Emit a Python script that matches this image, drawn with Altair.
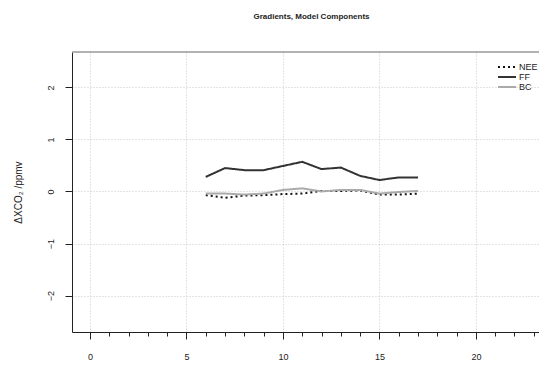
import altair as alt
import pandas as pd

hours = [6, 7, 8, 9, 10, 11, 12, 13, 14, 15, 16, 17]
nee = [-0.07, -0.12, -0.08, -0.07, -0.05, -0.04, 0.01, 0.01, 0.02, -0.06, -0.06, -0.04]
ff = [0.28, 0.45, 0.41, 0.41, 0.49, 0.57, 0.43, 0.46, 0.30, 0.22, 0.27, 0.27]
bc = [-0.04, -0.04, -0.06, -0.04, 0.03, 0.06, 0.00, 0.03, 0.03, -0.04, -0.01, 0.01]

series = ["NEE", "FF", "BC"]
rows = []
for name, vals in zip(series, [nee, ff, bc]):
    for h, v in zip(hours, vals):
        rows.append({"hour": h, "value": v, "series": name})
df = pd.DataFrame(rows)

x_ticks = list(range(0, 24))
y_ticks = [-2, -1, 0, 1, 2]

FONT = "Liberation Sans"
W, H = 467, 280

legend_cfg = dict(title=None, orient="none", legendX=430, legendY=10,
                  symbolType="M-2.25,0L2.25,0", symbolSize=64, symbolStrokeWidth=2,
                  labelFont=FONT, labelFontSize=9, labelColor="#222",
                  rowPadding=0, symbolOffset=0, labelOffset=7)

lines = alt.Chart(df).mark_line(strokeWidth=2, clip=True).encode(
    x=alt.X("hour:Q",
            scale=alt.Scale(domain=[-0.93, 23.27], nice=False, zero=False),
            axis=alt.Axis(values=x_ticks, title=None,
                          labelExpr="datum.value % 5 === 0 ? datum.label : ''",
                          tickSize=alt.expr("datum.value % 5 === 0 ? 7 : 4"),
                          gridOpacity=alt.expr("datum.value % 5 === 0 ? 1 : 0"),
                          labelPadding=13, labelFontSize=9, labelFont=FONT,
                          labelColor="#222", domainColor="#222", tickColor="#222",
                          gridColor="#c8c8c8", gridDash=[1, 2], labelFlush=False)),
    y=alt.Y("value:Q",
            scale=alt.Scale(domain=[-2.7, 2.68], nice=False, zero=False),
            axis=alt.Axis(values=y_ticks, title="ΔXCO₂ /ppmv",
                          tickSize=7, labelAngle=270, labelAlign="center",
                          labelBaseline="bottom",
                          labelPadding=10, labelFontSize=9, labelFont=FONT,
                          titleFont=FONT, titleFontSize=10, titleFontWeight="normal",
                          titleColor="#222", titlePadding=23,
                          labelColor="#222", domainColor="#222", tickColor="#222",
                          gridColor="#c8c8c8", gridDash=[1, 2])),
    color=alt.Color("series:N",
                    scale=alt.Scale(domain=series, range=["#111111", "#333333", "#aaaaaa"]),
                    legend=alt.Legend(**legend_cfg)),
    strokeDash=alt.StrokeDash("series:N",
                              scale=alt.Scale(domain=series, range=[[2, 3], [1, 0], [1, 0]]),
                              legend=alt.Legend(**legend_cfg)),
    detail="series:N",
)

top_line = alt.Chart(pd.DataFrame({"v": [0]})).mark_rule(color="#999999", strokeWidth=1.5).encode(
    x=alt.value(0), x2=alt.value(W), y=alt.value(0)
)

chart = alt.layer(top_line, lines).properties(
    width=W, height=H,
    title=alt.TitleParams("Gradients, Model Components", font=FONT, fontSize=8,
                          fontWeight="bold", color="#222", offset=30, dx=6),
    autosize=alt.AutoSizeParams(type="none"),
    padding={"left": 64, "top": 44, "right": 0, "bottom": 30},
).configure_view(stroke=None)

chart.save("out.html", embed_options={"renderer": "svg", "actions": False})
